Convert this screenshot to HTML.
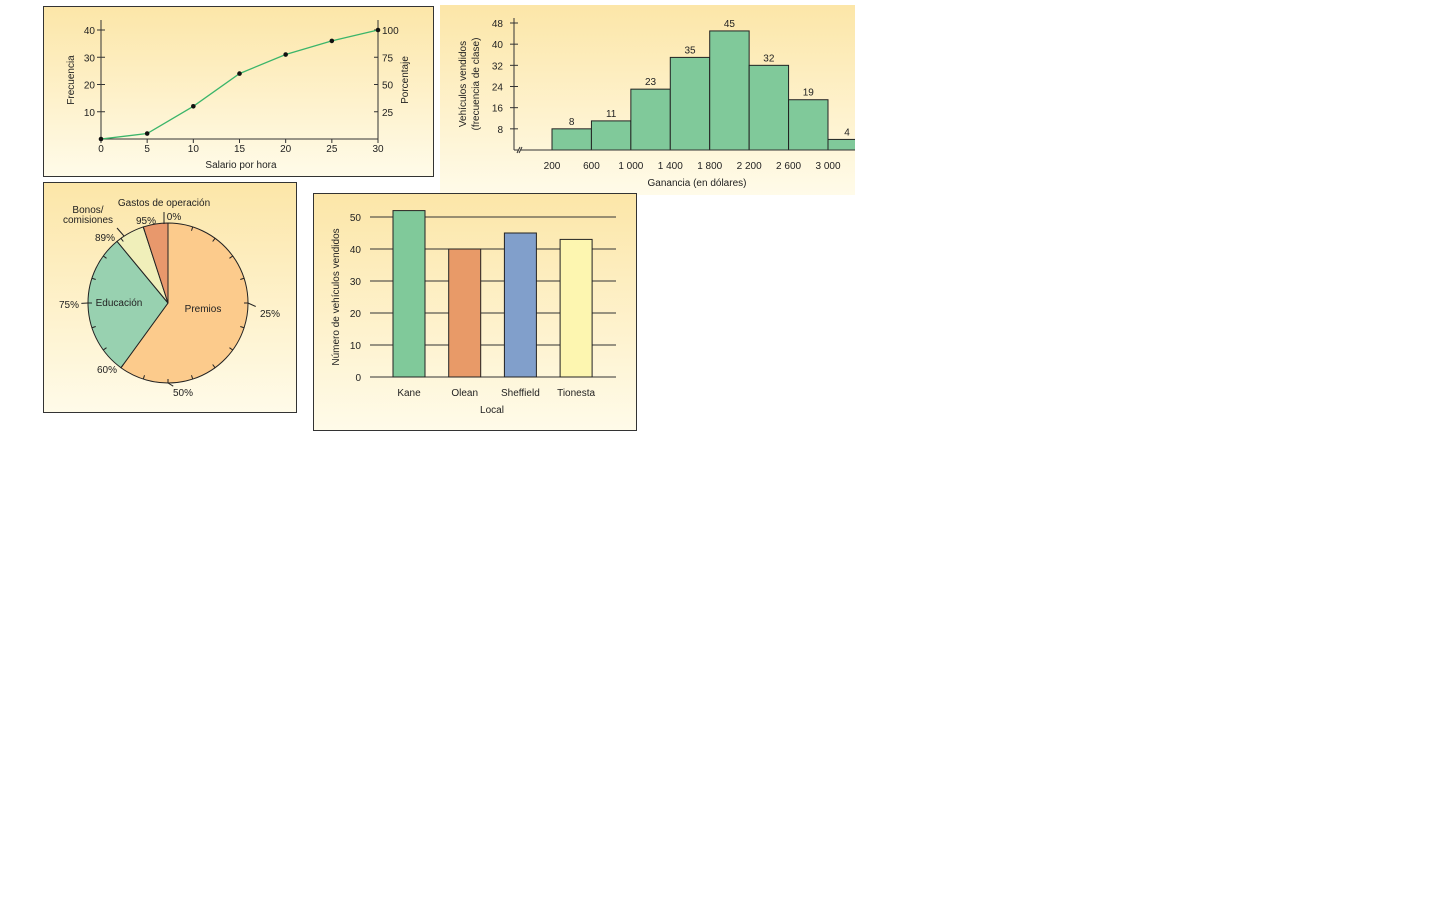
<!DOCTYPE html>
<html><head><meta charset="utf-8"><style>
body{margin:0;width:1440px;height:900px;background:#fff;overflow:hidden}
svg text{font-family:"Liberation Sans",sans-serif;font-size:10px;fill:#222}
</style></head><body>
<svg id="s" width="1440" height="900">
<defs>
<linearGradient id="bg" x1="0" y1="0" x2="0" y2="1"><stop offset="0" stop-color="#fce6a8"/><stop offset="1" stop-color="#fffbe9"/></linearGradient>
</defs>
<rect x="43.5" y="6.5" width="390" height="170" fill="url(#bg)" stroke="#333"/>
<rect x="440" y="5" width="415" height="190" fill="url(#bg)"/>
<rect x="43.5" y="182.5" width="253" height="230" fill="url(#bg)" stroke="#333"/>
<rect x="313.5" y="193.5" width="323" height="237" fill="url(#bg)" stroke="#333"/>
<g id="g1"></g>
<g id="g2"></g>
<g id="g3"></g>
<g id="g4"></g>
</svg>
<script>
// ---- ogive data
const ogiveX=[0,5,10,15,20,25,30];
const ogiveY=[0,2,12,24,31,36,40];
const ogiveLeftTicks=[10,20,30,40];
const ogiveRightTicks=[25,50,75,100];
// ---- histogram data
const histBins=[200,600,1000,1400,1800,2200,2600,3000];
const histValues=[8,11,23,35,45,32,19,4];
const histTicks=[8,16,24,32,40,48];
const histXLabels=["200","600","1 000","1 400","1 800","2 200","2 600","3 000"];
// ---- pie data
const pieNames=["Premios","Educación","Bonos/comisiones","Gastos de operación"];
const pieShares=[60,29,6,5];
const pieColors=["#fccb8c","#98d1b0","#f0efba","#e8986c"];
// ---- bar data
const barCats=["Kane","Olean","Sheffield","Tionesta"];
const barValues=[52,40,45,43];
const barColors=["#80c99a","#e89a68","#819fcb","#fdf6b0"];
const barTicks=[0,10,20,30,40,50];

const NS="http://www.w3.org/2000/svg";
function mk(p,t,a,txt){const e=document.createElementNS(NS,t);for(const k in a)e.setAttribute(k,a[k]);if(txt!==undefined)e.textContent=txt;p.appendChild(e);return e;}

// ===== Ogive
(function(){
const g=document.getElementById('g1');
const sx=v=>101+v*(378-101)/30, sy=v=>139-v*(139-30)/40;
let e;
e=mk(g,'line',{x1:101,y1:20,x2:101,y2:139,stroke:'#333'});

e=mk(g,'line',{x1:378,y1:20,x2:378,y2:139,stroke:'#333'});

e=mk(g,'line',{x1:101,y1:139,x2:378,y2:139,stroke:'#333'});

ogiveLeftTicks.forEach(v=>{mk(g,'line',{x1:97,x2:105,y1:sy(v),y2:sy(v),stroke:'#333'});
 e=mk(g,'text',{x:95,y:sy(v)+4,'text-anchor':'end'},v);
 });
ogiveRightTicks.forEach(v=>{const y=sy(v*40/100);mk(g,'line',{x1:374,x2:378,y1:y,y2:y,stroke:'#333'});
 e=mk(g,'text',{x:382,y:y+4},v);
 });
ogiveX.forEach(v=>{mk(g,'line',{x1:sx(v),x2:sx(v),y1:139,y2:143,stroke:'#333'});
 e=mk(g,'text',{x:sx(v),y:152,'text-anchor':'middle'},v);
 });
e=mk(g,'polyline',{points:ogiveX.map((x,i)=>sx(x)+','+sy(ogiveY[i])).join(' '),fill:'none',stroke:'#3bb56a','stroke-width':1.3});

ogiveX.forEach((x,i)=>{e=mk(g,'circle',{cx:sx(x),cy:sy(ogiveY[i]),r:2.3,fill:'#111'});
 });
e=mk(g,'text',{x:241,y:168,'text-anchor':'middle'},'Salario por hora');

e=mk(g,'text',{x:0,y:0,'text-anchor':'middle',transform:'translate(74,80) rotate(-90)'},'Frecuencia');

e=mk(g,'text',{x:0,y:0,'text-anchor':'middle',transform:'translate(408,80) rotate(-90)'},'Porcentaje');

})();

// ===== Histogram
(function(){
const g=document.getElementById('g2');
const w=(828-552)/2800;
const sx=v=>552+(v-200)*w, sy=v=>150-v*(150-23)/48;
let e;
histValues.forEach((v,i)=>{const x0=sx(histBins[i]);const x1=Math.min(sx(histBins[i]+400),860);
 e=mk(g,'rect',{x:x0,y:sy(v),width:x1-x0,height:150-sy(v),fill:'#80c99a',stroke:'#222','stroke-width':1});
 
 const lx=i===histValues.length-1?847:(x0+sx(histBins[i]+400))/2;
 e=mk(g,'text',{x:lx,y:sy(v)-4,'text-anchor':'middle'},v);
 });
e=mk(g,'rect',{x:855,y:0,width:20,height:200,fill:'#fff'});
e=mk(g,'line',{x1:514,y1:18,x2:514,y2:150,stroke:'#333'});

e=mk(g,'path',{d:'M514 150 L518 150 M517 153 L520 147 M519 153 L522 147 M521 150 L855 150',stroke:'#333',fill:'none'});

histTicks.forEach(v=>{mk(g,'line',{x1:510,x2:518,y1:sy(v),y2:sy(v),stroke:'#333'});
 e=mk(g,'text',{x:503,y:sy(v)+4,'text-anchor':'end'},v);
 });
histXLabels.forEach((t,i)=>{e=mk(g,'text',{x:sx(histBins[i]),y:169,'text-anchor':'middle'},t);
 });
e=mk(g,'text',{x:697,y:186,'text-anchor':'middle'},'Ganancia (en dólares)');

e=mk(g,'text',{x:0,y:0,'text-anchor':'middle',transform:'translate(466,84) rotate(-90)'},'Vehículos vendidos');

e=mk(g,'text',{x:0,y:0,'text-anchor':'middle',transform:'translate(479,84) rotate(-90)'},'(frecuencia de clase)');

})();

// ===== Pie
(function(){
const g=document.getElementById('g3');
const cx=168,cy=303,r=80;
const pt=(p,rr)=>{const a=p/100*2*Math.PI;return [cx+rr*Math.sin(a),cy-rr*Math.cos(a)];};
let cum=0,e;
const total=pieShares.reduce((a,b)=>a+b,0);
pieShares.forEach((s,i)=>{const p0=cum/total*100,p1=(cum+s)/total*100;cum+=s;
 const [x0,y0]=pt(p0,r),[x1,y1]=pt(p1,r);
 e=mk(g,'path',{d:`M${cx} ${cy} L${x0} ${y0} A${r} ${r} 0 ${p1-p0>50?1:0} 1 ${x1} ${y1} Z`,fill:pieColors[i],stroke:'#222','stroke-width':1});
 });
for(let p=0;p<100;p+=5){const [a,b]=pt(p,r),[c,d]=pt(p,r-4);mk(g,'line',{x1:a,y1:b,x2:c,y2:d,stroke:'#222'});}
[[25,'25%',270,317],[50,'50%',183,396],[75,'75%',69,308]].forEach(q=>{const [a,b]=pt(q[0],r);
 mk(g,'line',{x1:a,y1:b,x2:a+(q[2]-a)*0.35,y2:b+(q[3]-4-b)*0.35,stroke:'#222'});
 e=mk(g,'text',{x:q[2],y:q[3],'text-anchor':'middle'},q[1]);
 });
[['60%',107,373],['89%',105,241],['95%',146,224],['0%',174,220]].forEach(q=>{
 e=mk(g,'text',{x:q[1],y:q[2],'text-anchor':'middle'},q[0]);
 });
mk(g,'line',{x1:164,y1:212,x2:164,y2:224,stroke:'#222'});
mk(g,'line',{x1:117,y1:228,x2:124,y2:236,stroke:'#222'});
e=mk(g,'text',{x:203,y:312,'text-anchor':'middle'},'Premios');

e=mk(g,'text',{x:119,y:306,'text-anchor':'middle'},'Educación');

e=mk(g,'text',{x:88,y:213,'text-anchor':'middle'},'Bonos/');

e=mk(g,'text',{x:88,y:223,'text-anchor':'middle'},'comisiones');

e=mk(g,'text',{x:164,y:206,'text-anchor':'middle'},'Gastos de operación');

})();

// ===== Bar chart
(function(){
const g=document.getElementById('g4');
const sy=v=>377-v*(377-217)/50;
let e;
barTicks.forEach(v=>{e=mk(g,'line',{x1:370,x2:616,y1:sy(v),y2:sy(v),stroke:'#333'});
 
 e=mk(g,'text',{x:361,y:sy(v)+4,'text-anchor':'end'},v);
 });
barValues.forEach((v,i)=>{const x=393+i*55.7;
 e=mk(g,'rect',{x:x,y:sy(v),width:32,height:377-sy(v),fill:barColors[i],stroke:'#222'});
 
 e=mk(g,'text',{x:x+16,y:396,'text-anchor':'middle'},barCats[i]);
 });
e=mk(g,'text',{x:492,y:413,'text-anchor':'middle'},'Local');

e=mk(g,'text',{x:0,y:0,'text-anchor':'middle',transform:'translate(339,297) rotate(-90)'},'Número de vehículos vendidos');

})();
</script>
</body></html>
